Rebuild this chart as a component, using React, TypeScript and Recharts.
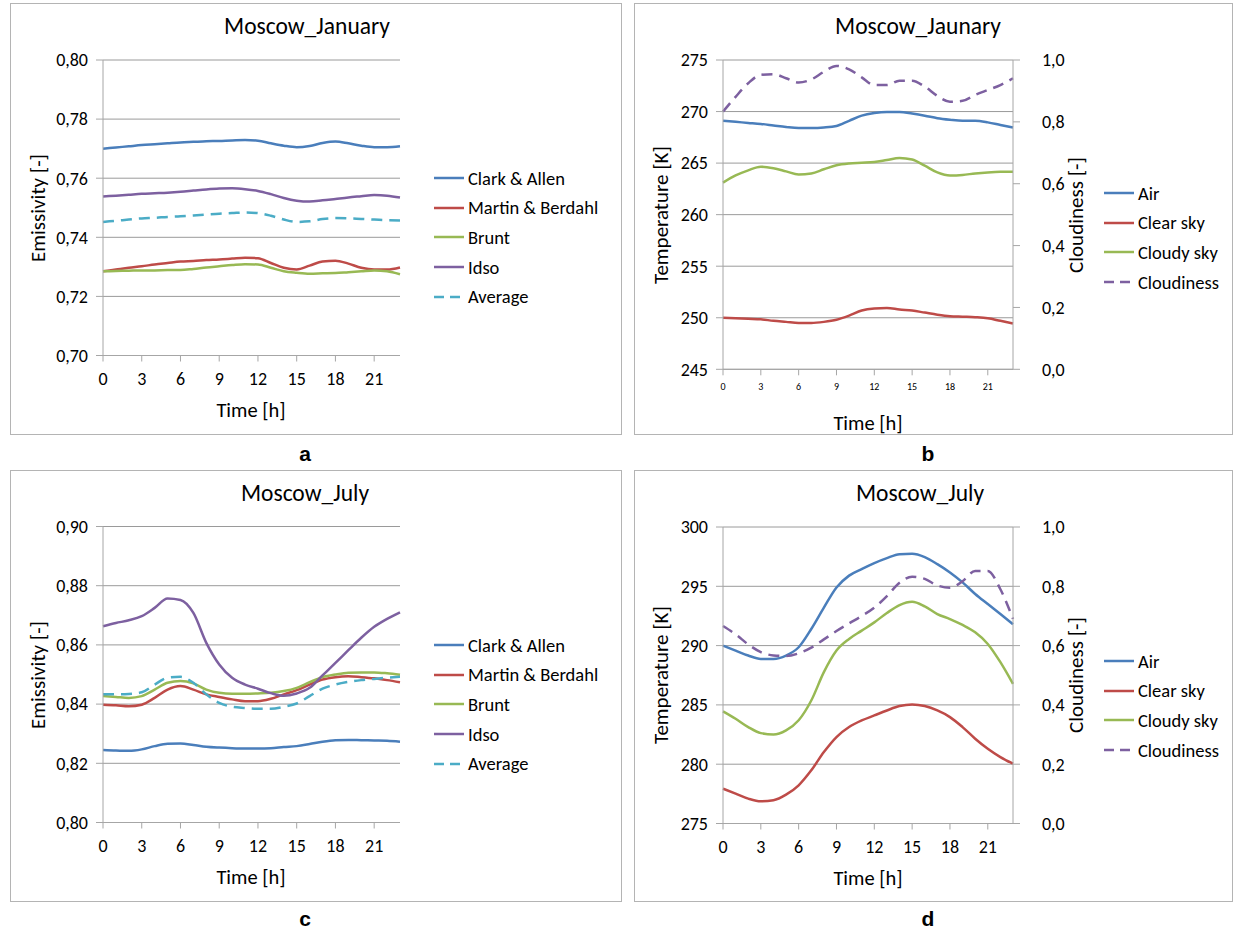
import { LineChart, Line, XAxis, YAxis, CartesianGrid } from "recharts"

const FONT = "Carlito, Calibri, Lato, sans-serif"

const hours = [0, 1, 2, 3, 4, 5, 6, 7, 8, 9, 10, 11, 12, 13, 14, 15, 16, 17, 18, 19, 20, 21, 22, 23]
const hourTicks = [0, 3, 6, 9, 12, 15, 18, 21]

// Moscow January, emissivity
const clarkJan = [0.7700, 0.7704, 0.7708, 0.7712, 0.7715, 0.7718, 0.7721, 0.7723, 0.7725, 0.7726, 0.7728, 0.7729, 0.7727, 0.7718, 0.7710, 0.7705, 0.7709, 0.7719, 0.7724, 0.7718, 0.7710, 0.7705, 0.7705, 0.7708]
const martinJan = [0.7285, 0.7291, 0.7297, 0.7302, 0.7308, 0.7313, 0.7318, 0.7320, 0.7323, 0.7325, 0.7328, 0.7331, 0.7329, 0.7313, 0.7297, 0.7291, 0.7304, 0.7318, 0.7321, 0.7311, 0.7297, 0.7291, 0.7291, 0.7298]
const bruntJan = [0.7285, 0.7286, 0.7287, 0.7288, 0.7288, 0.7289, 0.7289, 0.7293, 0.7298, 0.7302, 0.7306, 0.7309, 0.7308, 0.7297, 0.7285, 0.7280, 0.7277, 0.7278, 0.7279, 0.7282, 0.7285, 0.7288, 0.7285, 0.7275]
const idsoJan = [0.7538, 0.7541, 0.7544, 0.7547, 0.7549, 0.7551, 0.7554, 0.7558, 0.7562, 0.7565, 0.7566, 0.7563, 0.7557, 0.7546, 0.7533, 0.7524, 0.7521, 0.7525, 0.7530, 0.7535, 0.7539, 0.7543, 0.7541, 0.7535]
const avgJan = [0.7452, 0.7456, 0.7460, 0.7464, 0.7466, 0.7469, 0.7471, 0.7474, 0.7477, 0.7480, 0.7482, 0.7484, 0.7482, 0.7473, 0.7460, 0.7452, 0.7454, 0.7462, 0.7465, 0.7464, 0.7462, 0.7460, 0.7458, 0.7457]

// Moscow January, temperatures and cloudiness
const airJan = [269.1, 269.0, 268.9, 268.8, 268.65, 268.5, 268.4, 268.4, 268.45, 268.6, 269.1, 269.6, 269.85, 269.95, 269.95, 269.8, 269.6, 269.35, 269.2, 269.1, 269.1, 268.95, 268.7, 268.45]
const clearJan = [250.0, 249.95, 249.9, 249.85, 249.7, 249.6, 249.5, 249.5, 249.6, 249.8, 250.2, 250.7, 250.9, 250.95, 250.8, 250.7, 250.5, 250.3, 250.15, 250.1, 250.05, 249.95, 249.7, 249.45]
const cloudyJan = [263.1, 263.8, 264.3, 264.65, 264.5, 264.2, 263.9, 264.0, 264.4, 264.8, 264.97, 265.03, 265.1, 265.3, 265.5, 265.35, 264.75, 264.1, 263.8, 263.85, 264.0, 264.1, 264.15, 264.15]
const cloudJan = [0.833, 0.881, 0.925, 0.952, 0.954, 0.941, 0.927, 0.937, 0.962, 0.981, 0.97, 0.944, 0.919, 0.919, 0.933, 0.933, 0.914, 0.884, 0.865, 0.868, 0.887, 0.903, 0.919, 0.941]

// Moscow July, emissivity
const clarkJul = [0.8245, 0.8243, 0.8242, 0.8247, 0.8258, 0.8266, 0.8267, 0.8262, 0.8256, 0.8253, 0.8251, 0.8250, 0.8250, 0.8251, 0.8255, 0.8258, 0.8265, 0.8273, 0.8278, 0.8279, 0.8278, 0.8277, 0.8276, 0.8273]
const martinJul = [0.8398, 0.8396, 0.8393, 0.8398, 0.8421, 0.8449, 0.8461, 0.8449, 0.8433, 0.8424, 0.8416, 0.8410, 0.8410, 0.8418, 0.8433, 0.8447, 0.8466, 0.8483, 0.8491, 0.8494, 0.8491, 0.8487, 0.8481, 0.8474]
const bruntJul = [0.8427, 0.8424, 0.8421, 0.8427, 0.8449, 0.8472, 0.8478, 0.8470, 0.8449, 0.8438, 0.8435, 0.8435, 0.8436, 0.8438, 0.8444, 0.8455, 0.8474, 0.8491, 0.8500, 0.8506, 0.8507, 0.8507, 0.8504, 0.8499]
const idsoJul = [0.8663, 0.8674, 0.8683, 0.8697, 0.8725, 0.8757, 0.8752, 0.8708, 0.8607, 0.8534, 0.8489, 0.8466, 0.8452, 0.8437, 0.8428, 0.8436, 0.8455, 0.8497, 0.8539, 0.8582, 0.8624, 0.8661, 0.8688, 0.8710]
const avgJul = [0.8433, 0.8433, 0.8434, 0.8440, 0.8466, 0.8489, 0.8492, 0.8472, 0.8433, 0.8404, 0.8391, 0.8387, 0.8384, 0.8384, 0.8391, 0.8402, 0.8427, 0.8452, 0.8466, 0.8475, 0.8481, 0.8485, 0.8489, 0.8492]

// Moscow July, temperatures and cloudiness
const airJul = [290.0, 289.58, 289.16, 288.88, 288.88, 289.16, 289.86, 291.4, 293.2, 294.9, 295.9, 296.45, 296.96, 297.38, 297.7, 297.74, 297.46, 296.87, 296.17, 295.33, 294.35, 293.5, 292.66, 291.8]
const clearJul = [277.94, 277.52, 277.1, 276.87, 276.96, 277.43, 278.22, 279.48, 281.02, 282.29, 283.13, 283.69, 284.11, 284.53, 284.9, 285.03, 284.9, 284.53, 283.97, 283.13, 282.15, 281.3, 280.6, 280.04]
const cloudyJul = [284.45, 283.83, 283.13, 282.62, 282.5, 282.85, 283.7, 285.37, 287.76, 289.58, 290.56, 291.26, 291.96, 292.75, 293.42, 293.7, 293.31, 292.66, 292.24, 291.74, 291.12, 290.14, 288.6, 286.77]
const cloudJul = [0.666, 0.638, 0.604, 0.578, 0.567, 0.565, 0.574, 0.593, 0.621, 0.649, 0.675, 0.700, 0.728, 0.767, 0.812, 0.832, 0.825, 0.803, 0.795, 0.817, 0.852, 0.852, 0.79, 0.69]

const emisTicksJan = [0.70, 0.72, 0.74, 0.76, 0.78, 0.80]
const emisTicksJul = [0.80, 0.82, 0.84, 0.86, 0.88, 0.90]
const tempTicksJan = [245, 250, 255, 260, 265, 270, 275]
const tempTicksJul = [275, 280, 285, 290, 295, 300]
const cloudTicks = [0, 0.2, 0.4, 0.6, 0.8, 1.0]

const emisNames = ["Clark & Allen", "Martin & Berdahl", "Brunt", "Idso", "Average"]
const tempNames = ["Air", "Clear sky", "Cloudy sky", "Cloudiness"]

const BLUE = "#4a7ebb"
const RED = "#be4b48"
const GREEN = "#98b954"
const PURPLE = "#7d60a0"
const CYAN = "#4bacc6"
const GRID = "#9a9a9a"
const AXIS = "#a6a6a6"

const toRows = (cols: number[][]) =>
  hours.map((h, i) => {
    const row: Record<string, number> = { h }
    cols.forEach((c, j) => (row["s" + j] = c[i]))
    return row
  })

const emisSeries = [
  { name: emisNames[0], color: BLUE },
  { name: emisNames[1], color: RED },
  { name: emisNames[2], color: GREEN },
  { name: emisNames[3], color: PURPLE },
  { name: emisNames[4], color: CYAN, dash: true },
]
const tempSeries = [
  { name: tempNames[0], color: BLUE },
  { name: tempNames[1], color: RED },
  { name: tempNames[2], color: GREEN },
  { name: tempNames[3], color: PURPLE, dash: true, right: true },
]

const comma = (d: number) => (v: number) => v.toFixed(d).replace(".", ",")

type Box = { l: number; t: number; r: number; b: number }

function Text({ x, y, size, children, rotate, bold, family }: any) {
  return (
    <div
      style={{
        position: "absolute",
        left: x,
        top: y,
        transform: `translate(-50%, -50%)${rotate ? " rotate(-90deg)" : ""}`,
        whiteSpace: "nowrap",
        fontFamily: family || FONT,
        fontSize: size,
        fontWeight: bold ? "bold" : "normal",
        color: "#000",
        lineHeight: 1,
      }}
    >
      {children}
    </div>
  )
}

function Panel(props: {
  box: Box
  plot: Box
  data: Record<string, number>[]
  series: { name: string; color: string; dash?: boolean; right?: boolean }[]
  yDomain: [number, number]
  yTicks: number[]
  yFmt: (v: number) => string
  rTicks?: number[]
  xTickSize: number
  title: string
  titleX: number
  yLabel: string
  yLabelX: number
  rLabel?: string
  rLabelX?: number
  xLabelX: number
  legendX: number
  legendY: number
}) {
  const { box, plot, series, rTicks } = props
  const w = box.r - box.l
  const h = box.b - box.t
  const yW = plot.l - box.l
  const rW = 60
  const xH = 40
  const marginRight = rTicks ? box.r - plot.r - rW : box.r - plot.r
  const marginBottom = box.b - plot.b - xH
  const midY = (plot.t + plot.b) / 2
  const tickStyle = { fill: "#000", fontSize: 18, fontFamily: FONT }
  return (
    <>
      <div
        style={{
          position: "absolute",
          left: box.l,
          top: box.t,
          width: w,
          height: h,
          boxSizing: "border-box",
          border: "1.5px solid #b4b4b4",
        }}
      />
      <div style={{ position: "absolute", left: box.l, top: box.t }}>
        <LineChart
          width={w}
          height={h}
          data={props.data}
          margin={{ top: plot.t - box.t, right: marginRight, bottom: marginBottom, left: 0 }}
        >
          <CartesianGrid yAxisId="left" vertical={false} stroke={GRID} horizontalValues={props.yTicks} />
          <XAxis
            dataKey="h"
            type="number"
            domain={[0, 23]}
            ticks={hourTicks}
            height={xH}
            tickSize={6}
            tickMargin={props.xTickSize < 12 ? 8 : 11}
            stroke={AXIS}
            tick={{ ...tickStyle, fontSize: props.xTickSize }}
            interval={0}
          />
          <YAxis
            yAxisId="left"
            type="number"
            domain={props.yDomain}
            ticks={props.yTicks}
            tickFormatter={props.yFmt}
            width={yW}
            tickSize={7}
            tickMargin={8}
            stroke={AXIS}
            tick={tickStyle}
            interval={0}
          />
          {rTicks && (
            <YAxis
              yAxisId="right"
              orientation="right"
              type="number"
              domain={[0, 1]}
              ticks={rTicks}
              tickFormatter={comma(1)}
              width={rW}
              tickSize={7}
              tickMargin={22}
              stroke={AXIS}
              tick={tickStyle}
              interval={0}
            />
          )}
          {series.map((s, i) => (
            <Line
              key={s.name}
              yAxisId={s.right ? "right" : "left"}
              dataKey={"s" + i}
              name={s.name}
              type="monotone"
              stroke={s.color}
              strokeWidth={2.5}
              strokeDasharray={s.dash ? "11 7" : undefined}
              dot={false}
              activeDot={false}
              isAnimationActive={false}
            />
          ))}
        </LineChart>
      </div>
      <Text x={props.titleX} y={box.t + 24} size={23.5}>
        {props.title}
      </Text>
      <Text x={props.yLabelX} y={midY} size={21} rotate>
        {props.yLabel}
      </Text>
      {props.rLabel && (
        <Text x={props.rLabelX} y={midY} size={21} rotate>
          {props.rLabel}
        </Text>
      )}
      <Text x={props.xLabelX} y={plot.b + 54} size={20.5}>
        Time [h]
      </Text>
      {series.map((s, i) => (
        <div
          key={s.name}
          style={{
            position: "absolute",
            left: props.legendX,
            top: props.legendY + i * 29.7 - 11,
            height: 22,
            display: "flex",
            alignItems: "center",
            fontFamily: FONT,
            fontSize: 18.5,
            whiteSpace: "nowrap",
          }}
        >
          <svg width={31} height={6} style={{ marginRight: 3 }}>
            <line
              x1={0}
              y1={3}
              x2={30}
              y2={3}
              stroke={s.color}
              strokeWidth={2.5}
              strokeDasharray={s.dash ? "10 6" : undefined}
            />
          </svg>
          <span>{s.name}</span>
        </div>
      ))}
    </>
  )
}

export default function App() {
  const janE = toRows([clarkJan, martinJan, bruntJan, idsoJan, avgJan])
  const janT = toRows([airJan, clearJan, cloudyJan, cloudJan])
  const julE = toRows([clarkJul, martinJul, bruntJul, idsoJul, avgJul])
  const julT = toRows([airJul, clearJul, cloudyJul, cloudJul])
  return (
    <div style={{ position: "absolute", left: 0, top: 0, width: 1234, height: 933, background: "#fff" }}>
      <Panel
        box={{ l: 10, t: 3, r: 622, b: 435 }}
        plot={{ l: 103, t: 60, r: 400, b: 355.5 }}
        data={janE}
        series={emisSeries}
        yDomain={[0.7, 0.8]}
        yTicks={emisTicksJan}
        yFmt={comma(2)}
        xTickSize={18}
        title="Moscow_January"
        titleX={307}
        yLabel="Emissivity [-]"
        yLabelX={38}
        xLabelX={251}
        legendX={434}
        legendY={178}
      />
      <Panel
        box={{ l: 634, t: 3, r: 1233, b: 435 }}
        plot={{ l: 723, t: 60, r: 1013, b: 369.3 }}
        data={janT}
        series={tempSeries}
        yDomain={[245, 275]}
        yTicks={tempTicksJan}
        yFmt={(v) => String(v)}
        rTicks={cloudTicks}
        xTickSize={10}
        title="Moscow_Jaunary"
        titleX={918}
        yLabel="Temperature [K]"
        yLabelX={661}
        rLabel="Cloudiness [-]"
        rLabelX={1076}
        xLabelX={868}
        legendX={1104}
        legendY={193}
      />
      <Panel
        box={{ l: 10, t: 470, r: 622, b: 902 }}
        plot={{ l: 103, t: 526.5, r: 400, b: 822.5 }}
        data={julE}
        series={emisSeries}
        yDomain={[0.8, 0.9]}
        yTicks={emisTicksJul}
        yFmt={comma(2)}
        xTickSize={18}
        title="Moscow_July"
        titleX={305}
        yLabel="Emissivity [-]"
        yLabelX={38}
        xLabelX={251}
        legendX={434}
        legendY={645}
      />
      <Panel
        box={{ l: 634, t: 470, r: 1233, b: 902 }}
        plot={{ l: 723, t: 527, r: 1013, b: 823.5 }}
        data={julT}
        series={tempSeries}
        yDomain={[275, 300]}
        yTicks={tempTicksJul}
        yFmt={(v) => String(v)}
        rTicks={cloudTicks}
        xTickSize={18}
        title="Moscow_July"
        titleX={920}
        yLabel="Temperature [K]"
        yLabelX={661}
        rLabel="Cloudiness [-]"
        rLabelX={1076}
        xLabelX={868}
        legendX={1104}
        legendY={661}
      />
      <Text x={305} y={453} size={21} bold family="Liberation Sans, Arial, sans-serif">a</Text>
      <Text x={928} y={453} size={21} bold family="Liberation Sans, Arial, sans-serif">b</Text>
      <Text x={305} y={918} size={21} bold family="Liberation Sans, Arial, sans-serif">c</Text>
      <Text x={928} y={918} size={21} bold family="Liberation Sans, Arial, sans-serif">d</Text>
    </div>
  )
}
